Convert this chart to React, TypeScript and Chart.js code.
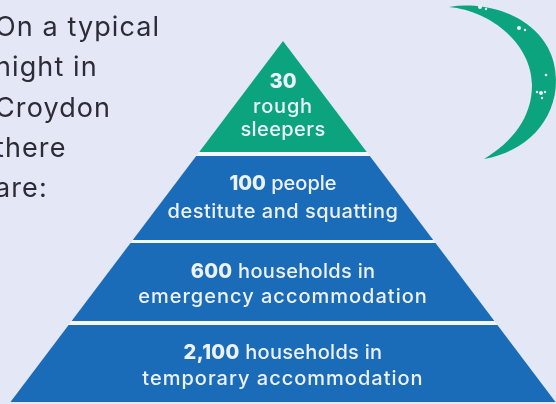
import React, { useEffect, useRef } from "react";
import { Chart, registerables } from "chart.js";

Chart.register(...registerables);

// Chart content
const tierNames = ["rough sleepers", "destitute and squatting", "emergency accommodation", "temporary accommodation"];
const tierValues = ["30", "100", "600", "2,100"];
const tierFirstLines = ["", " people", " households in", " households in"];
const tierSecondLines = [["rough", "sleepers"], ["destitute and squatting"], ["emergency accommodation"], ["temporary accommodation"]];
const introLines = ["On a typical", "night in", "Croydon", "there", "are:"];

// Layout, in axis units (depth is measured down from the apex)
const bandStart = [0, 115, 202, 284];
const bandEnd = [111, 199, 280, 361];
const bandColors = ["#0BA47E", "#1A6BB8", "#1A6BB8", "#1A6BB8"];
const firstBaseline = [47, 149, 237, 318];
const secondBaselines = [[72, 95], [177], [262], [344]];
const firstSpacing = [0, 0, 0.3, 0.3];
const secondSpacing = [[0.8, 0.4], [0.5], [1], [1]];
const introBaselines = [36, 76, 117, 157, 197];
const SLOPE = 0.755;
const BG = "#E3E7F6";
const FONT = "Inter, sans-serif";

const trapezoid = (start: number, end: number) => {
  const t = start * SLOPE;
  const b = end * SLOPE;
  return [
    { x: -b, y: end },
    { x: -t, y: start },
    { x: t, y: start },
    { x: b, y: end },
  ];
};

const decorationPlugin = {
  id: "decoration",
  beforeDraw(chart: Chart) {
    const { ctx, width, height } = chart;
    ctx.save();
    ctx.fillStyle = BG;
    ctx.fillRect(0, 0, width, height);

    // crescent moon
    ctx.fillStyle = "#0BA47E";
    ctx.beginPath();
    ctx.moveTo(449, 7);
    ctx.bezierCurveTo(497, -1, 556, 25, 556, 80);
    ctx.bezierCurveTo(556, 122, 525, 152, 484, 159);
    ctx.bezierCurveTo(512, 142, 532, 118, 532, 85);
    ctx.bezierCurveTo(532, 45, 492, 11, 449, 7);
    ctx.fill();
    ctx.fillStyle = "#E8F2F2";
    for (const [x, y, r] of [[480, 7, 2], [486, 9, 1.2], [519, 28, 2], [525, 30, 1.2], [546, 75, 1.3], [541, 93, 2], [537, 92, 1.2], [545, 92, 1.2], [542, 98, 1.2]]) {
      ctx.beginPath();
      ctx.arc(x, y, r, 0, Math.PI * 2);
      ctx.fill();
    }

    // intro text
    ctx.fillStyle = "#2A2C36";
    ctx.font = `400 27px ${FONT}`;
    ctx.textAlign = "left";
    ctx.textBaseline = "alphabetic";
    (ctx as any).letterSpacing = "1.1px";
    introLines.forEach((line, i) => ctx.fillText(line, -5, introBaselines[i]));
    ctx.restore();
  },
  afterDatasetsDraw(chart: Chart) {
    const { ctx, scales } = chart;
    const cx = scales.x.getPixelForValue(0);
    const c = ctx as any;
    ctx.save();
    ctx.fillStyle = "#EDF2FA";
    ctx.textBaseline = "alphabetic";
    ctx.textAlign = "left";
    tierValues.forEach((value, i) => {
      const y = scales.y.getPixelForValue(firstBaseline[i]);
      c.letterSpacing = `${firstSpacing[i]}px`;
      ctx.font = `800 20px ${FONT}`;
      const w1 = ctx.measureText(value).width;
      ctx.font = `500 20px ${FONT}`;
      const w2 = ctx.measureText(tierFirstLines[i]).width;
      const x0 = cx - (w1 + w2) / 2;
      ctx.font = `800 20px ${FONT}`;
      ctx.fillText(value, x0, y);
      ctx.font = `500 20px ${FONT}`;
      ctx.fillText(tierFirstLines[i], x0 + w1, y);
      tierSecondLines[i].forEach((line, j) => {
        c.letterSpacing = `${secondSpacing[i][j]}px`;
        const w = ctx.measureText(line).width;
        ctx.fillText(line, cx - w / 2, scales.y.getPixelForValue(secondBaselines[i][j]));
      });
    });
    ctx.restore();
  },
};

export default function App() {
  const ref = useRef<HTMLCanvasElement>(null);
  useEffect(() => {
    document.body.style.margin = "0";
    document.body.style.background = BG;
    const chart = new Chart(ref.current!, {
      type: "scatter",
      data: {
        datasets: [
          ...tierNames.map((name, i) => ({
            label: name,
            data: trapezoid(bandStart[i], bandEnd[i]),
            showLine: true,
            pointRadius: 0,
            borderWidth: 0,
            borderColor: "rgba(0,0,0,0)",
            backgroundColor: bandColors[i],
            fill: { target: { value: bandEnd[i] } },
          })),
          {
            label: "outline",
            data: trapezoid(0, 361),
            showLine: true,
            pointRadius: 0,
            borderWidth: 0,
            borderColor: "rgba(0,0,0,0)",
            backgroundColor: "#F4F6FC",
            fill: { target: { value: 361 } },
          },
        ],
      } as any,
      options: {
        animation: false,
        responsive: false,
        layout: { padding: 0 },
        plugins: { legend: { display: false }, tooltip: { enabled: false }, title: { display: false } },
        scales: {
          x: { type: "linear", display: false, min: -283, max: 273 },
          y: { type: "linear", display: false, reverse: true, min: -41, max: 363 },
        },
      } as any,
      plugins: [decorationPlugin as any],
    });
    return () => chart.destroy();
  }, []);
  return (
    <div style={{ width: 556, height: 404, overflow: "hidden" }}>
      <canvas ref={ref} width={556} height={404} style={{ display: "block", filter: "blur(0.5px)" }} />
    </div>
  );
}
